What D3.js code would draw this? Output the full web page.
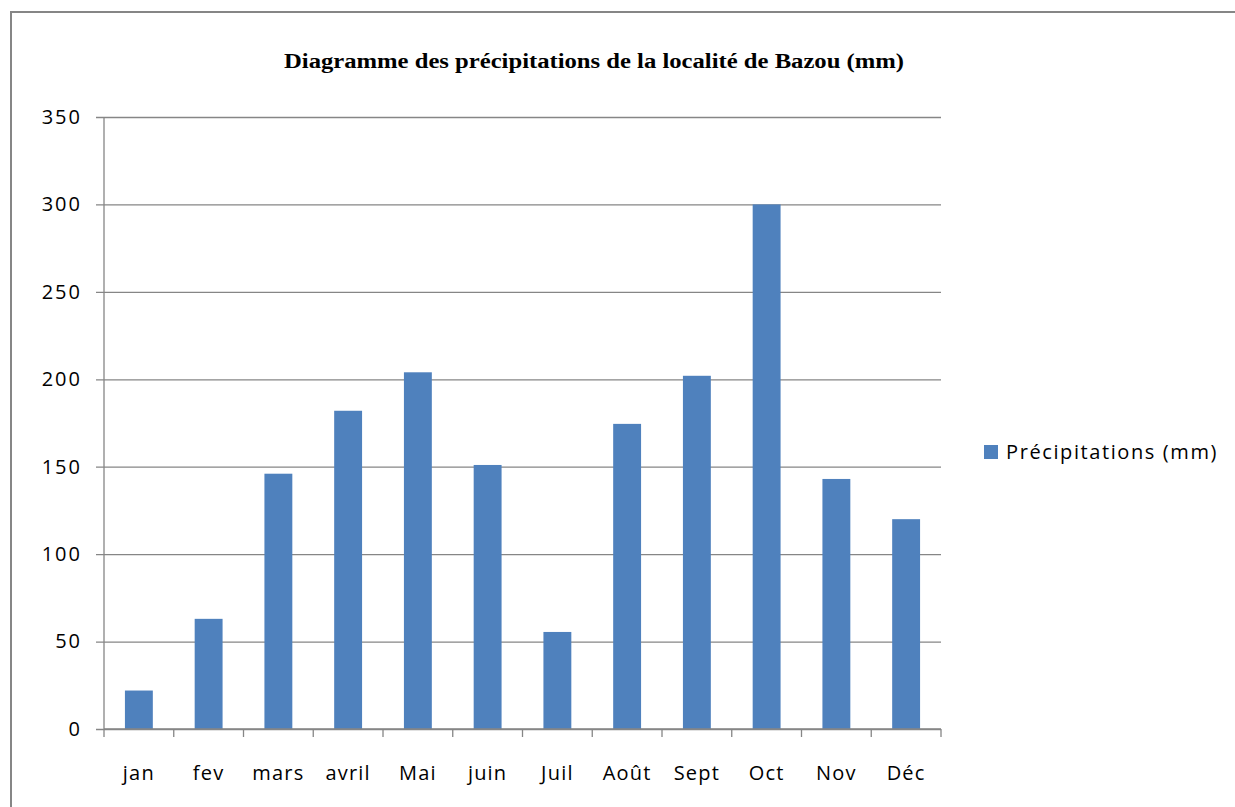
<!DOCTYPE html>
<html>
<head>
<meta charset="utf-8">
<script src="https://cdn.jsdelivr.net/npm/d3@7"></script>
<style>
  body { margin: 0; background: #fff; }
  svg { display: block; }
</style>
</head>
<body>
<svg id="chart" width="1235" height="807"></svg>
<script>
// data
const months = ['jan', 'fev', 'mars', 'avril', 'Mai', 'juin', 'Juil', 'Août', 'Sept', 'Oct', 'Nov', 'Déc'];
const rainfall = [22, 63, 146, 182, 204, 151, 55.5, 174.5, 202, 300, 143, 120];
const yTicks = [0, 50, 100, 150, 200, 250, 300, 350];
const seriesName = 'Précipitations (mm)';
const title = 'Diagramme des précipitations de la localité de Bazou (mm)';

const svg = d3.select('#chart');
const width = 1235, height = 807;
const margin = { top: 117, right: 294, bottom: 78, left: 104 };
const innerWidth = width - margin.left - margin.right;
const innerHeight = height - margin.top - margin.bottom;
const grey = '#868686';
const barColor = '#4F81BD';
const labelFont = '"Open Sans", Lato, sans-serif';

// outer frame (right and bottom edges fall outside the picture)
svg.append('rect')
  .attr('x', 11).attr('y', 12)
  .attr('width', width - 9).attr('height', height - 8)
  .attr('fill', 'none')
  .attr('stroke', grey)
  .attr('stroke-width', 2);

// title
svg.append('text')
  .attr('x', 594)
  .attr('y', 68)
  .attr('text-anchor', 'middle')
  .attr('font-family', '"Liberation Serif", "DejaVu Serif", serif')
  .attr('font-weight', 'bold')
  .attr('font-size', 20)
  .attr('textLength', 620)
  .attr('lengthAdjust', 'spacingAndGlyphs')
  .text(title);

const xScale = d3.scaleBand()
  .domain(months)
  .range([0, innerWidth])
  .paddingInner(0.6)
  .paddingOuter(0.3);

const yScale = d3.scaleLinear()
  .domain([0, 350])
  .range([innerHeight, 0]);

const g = svg.append('g')
  .attr('transform', `translate(${margin.left},${margin.top})`);

// Y grid + axis
g.append('g')
  .attr('class', 'Yaxis')
  .call(d3.axisLeft(yScale)
    .tickValues(yTicks)
    .tickSize(-innerWidth)
    .tickPadding(22)
  )
  .call(a => a.select('.domain').remove())
  .call(a => a.selectAll('.tick line')
    .attr('stroke', grey)
    .attr('stroke-width', 1.3)
    .attr('x1', -8)
    .attr('x2', innerWidth)
  )
  .call(a => a.selectAll('.tick text')
    .attr('fill', '#000')
    .attr('font-family', labelFont)
    .attr('font-size', 20)
    .attr('letter-spacing', 2)
  );

// vertical axis line
g.append('line')
  .attr('x1', 0).attr('x2', 0)
  .attr('y1', 0).attr('y2', innerHeight)
  .attr('stroke', grey)
  .attr('stroke-width', 1.3);

// bars
g.selectAll('rect.bar')
  .data(rainfall)
  .enter()
  .append('rect')
  .attr('class', 'bar')
  .attr('x', (d, i) => xScale(months[i]))
  .attr('y', d => yScale(d))
  .attr('width', xScale.bandwidth())
  .attr('height', d => innerHeight - yScale(d))
  .attr('fill', barColor);

// X axis with ticks at category boundaries
const boundaries = d3.range(months.length + 1);
const xAxis = g.append('g')
  .attr('class', 'Xaxis')
  .attr('transform', `translate(0,${innerHeight})`);

xAxis.append('line')
  .attr('x1', 0).attr('x2', innerWidth)
  .attr('stroke', grey)
  .attr('stroke-width', 1.3);

xAxis.selectAll('line.tick')
  .data(boundaries)
  .enter()
  .append('line')
  .attr('class', 'tick')
  .attr('x1', i => i * innerWidth / months.length)
  .attr('x2', i => i * innerWidth / months.length)
  .attr('y1', 0).attr('y2', 8)
  .attr('stroke', grey)
  .attr('stroke-width', 1.3);

xAxis.selectAll('text')
  .data(months)
  .enter()
  .append('text')
  .attr('x', d => xScale(d) + xScale.bandwidth() / 2)
  .attr('y', 51)
  .attr('text-anchor', 'middle')
  .attr('font-family', labelFont)
  .attr('font-size', 20)
  .attr('letter-spacing', 1.2)
  .text(d => d);

// legend
const legend = svg.append('g')
  .attr('transform', 'translate(984,445)');

legend.append('rect')
  .attr('width', 14).attr('height', 14)
  .attr('fill', barColor);

legend.append('text')
  .attr('x', 22)
  .attr('y', 14)
  .attr('font-family', labelFont)
  .attr('font-size', 20)
  .attr('letter-spacing', 1.6)
  .text(seriesName);
</script>
</body>
</html>
